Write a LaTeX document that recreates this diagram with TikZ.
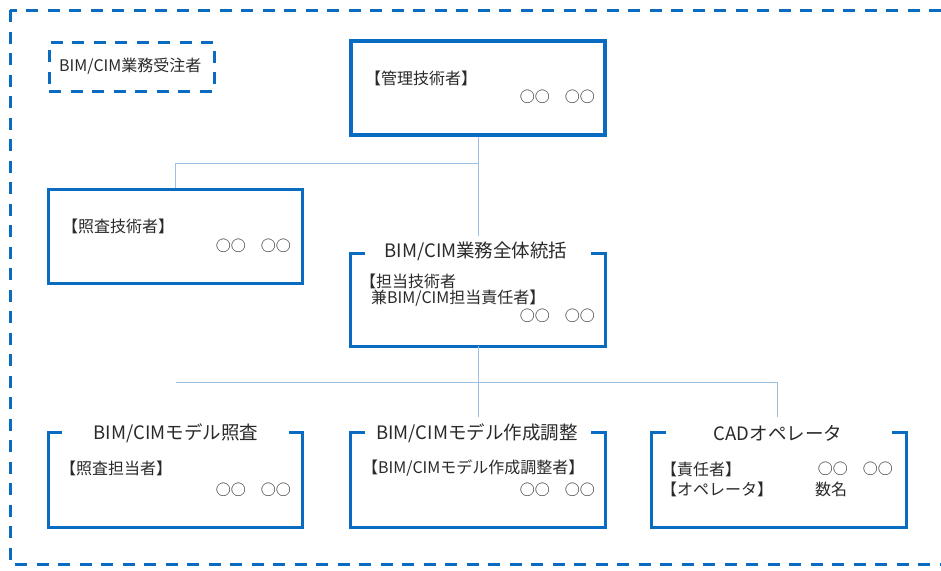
\documentclass[tikz,border=0pt]{standalone}
\usepackage{fontspec}
\setmainfont{Noto Sans CJK JP}
\usetikzlibrary{calc}
\definecolor{boxblue}{HTML}{0A6CC0}
\definecolor{linkblue}{HTML}{9CC0E4}
\definecolor{txt}{HTML}{2A2A2A}
\tikzset{
  solidbox/.style={draw=boxblue, line width=3.1pt, minimum width=254pt, minimum height=94pt, inner sep=0pt},
  framebox/.style={draw=none, minimum width=254pt, minimum height=94pt, inner sep=0pt},
  bracketline/.style={draw=boxblue, line width=3.1pt},
  dashframe/.style={draw=boxblue, line width=3pt, dash pattern=on 12pt off 9.5pt},
  conn/.style={draw=linkblue, line width=0.8pt},
  bodytxt/.style={text=txt, font=\fontsize{16}{19}\selectfont, inner sep=0pt},
  titletxt/.style={text=txt, font=\fontsize{18.5}{22}\selectfont, inner sep=0pt},
  circtxt/.style={text=txt, font=\fontsize{15}{17}\selectfont, inner sep=0pt, anchor=east}
}
\begin{document}
\begin{tikzpicture}[x=1pt,y=-1pt]
\useasboundingbox (0,0) rectangle (941,570);
\fill[white] (0,0) rectangle (941,570);
% outer dashed frame (right side lies outside the picture)
\draw[dashframe] (10,10) rectangle (975,564);
% legend
\node[dashframe, minimum width=165pt, minimum height=49pt, inner sep=0pt] (legend) at (131.5,66.5) {};
\node[bodytxt, anchor=west] (legendtxt) at (59,66) {BIM/CIM業務受注者};

% management engineer
\node[solidbox] (mgr) at (478,88) {};
\node[bodytxt, anchor=west] (mgrlbl) at (365,78) {【管理技術者】};
\node[circtxt] (mgrname) at (595,97) {○○　○○};

% checking engineer
\node[solidbox] (chk) at (175.5,236.5) {};
\node[bodytxt, anchor=west] (chklbl) at (62,226) {【照査技術者】};
\node[circtxt] (chkname) at (291,246) {○○　○○};

% overall BIM/CIM supervision
\node[framebox, minimum height=92pt] (ctr) at (478,300) {};
\draw[bracketline] ($(ctr.north west)+(14,0)$) -- (ctr.north west) -- (ctr.south west) -- (ctr.south east) -- (ctr.north east) -- ++(-14,0);
\node[titletxt] (ctrtitle) at (476,251) {BIM/CIM業務全体統括};
\node[bodytxt, anchor=west] (ctrlbl1) at (360,281) {【担当技術者};
\node[bodytxt, anchor=west] (ctrlbl2) at (371,298) {兼BIM/CIM担当責任者】};
\node[circtxt] (ctrname) at (595,316) {○○　○○};

% bottom row
\node[framebox] (modchk) at (175.5,480) {};
\draw[bracketline] ($(modchk.north west)+(14,0)$) -- (modchk.north west) -- (modchk.south west) -- (modchk.south east) -- (modchk.north east) -- ++(-14,0);
\node[titletxt] (modchktitle) at (176,433) {BIM/CIMモデル照査};
\node[bodytxt, anchor=west] (modchklbl) at (60,468) {【照査担当者】};
\node[circtxt] (modchkname) at (291,490) {○○　○○};

\node[framebox] (modmk) at (478,480) {};
\draw[bracketline] ($(modmk.north west)+(14,0)$) -- (modmk.north west) -- (modmk.south west) -- (modmk.south east) -- (modmk.north east) -- ++(-14,0);
\node[titletxt] (modmktitle) at (477,433) {BIM/CIMモデル作成調整};
\node[bodytxt, anchor=west] (modmklbl) at (362,468) {【BIM/CIMモデル作成調整者】};
\node[circtxt] (modmkname) at (595,490) {○○　○○};

\node[framebox] (cad) at (779,480) {};
\draw[bracketline] ($(cad.north west)+(14,0)$) -- (cad.north west) -- (cad.south west) -- (cad.south east) -- (cad.north east) -- ++(-14,0);
\node[titletxt] (cadtitle) at (778,433) {CADオペレータ};
\node[bodytxt, anchor=west] (cadlbl1) at (661,469) {【責任者】};
\node[bodytxt, anchor=west] (cadlbl2) at (661,489) {【オペレータ】};
\node[circtxt] (cadname) at (893,469) {○○　○○};
\node[bodytxt, anchor=west] (cadnum) at (815,489) {数名};

% connectors
\coordinate (j1) at (478,163);
\coordinate (c1) at (478,236);
\draw[conn] (mgr.south) -- (c1);
\draw[conn] (j1) -| (chk.north);
\coordinate (j2) at (478,382);
\coordinate (jL) at (176,382);
\coordinate (c2) at (478,417);
\coordinate (c3) at (777,417);
\draw[conn] (ctr.south) -- (c2);
\draw[conn] (jL) -| (c3);
\end{tikzpicture}
\end{document}
